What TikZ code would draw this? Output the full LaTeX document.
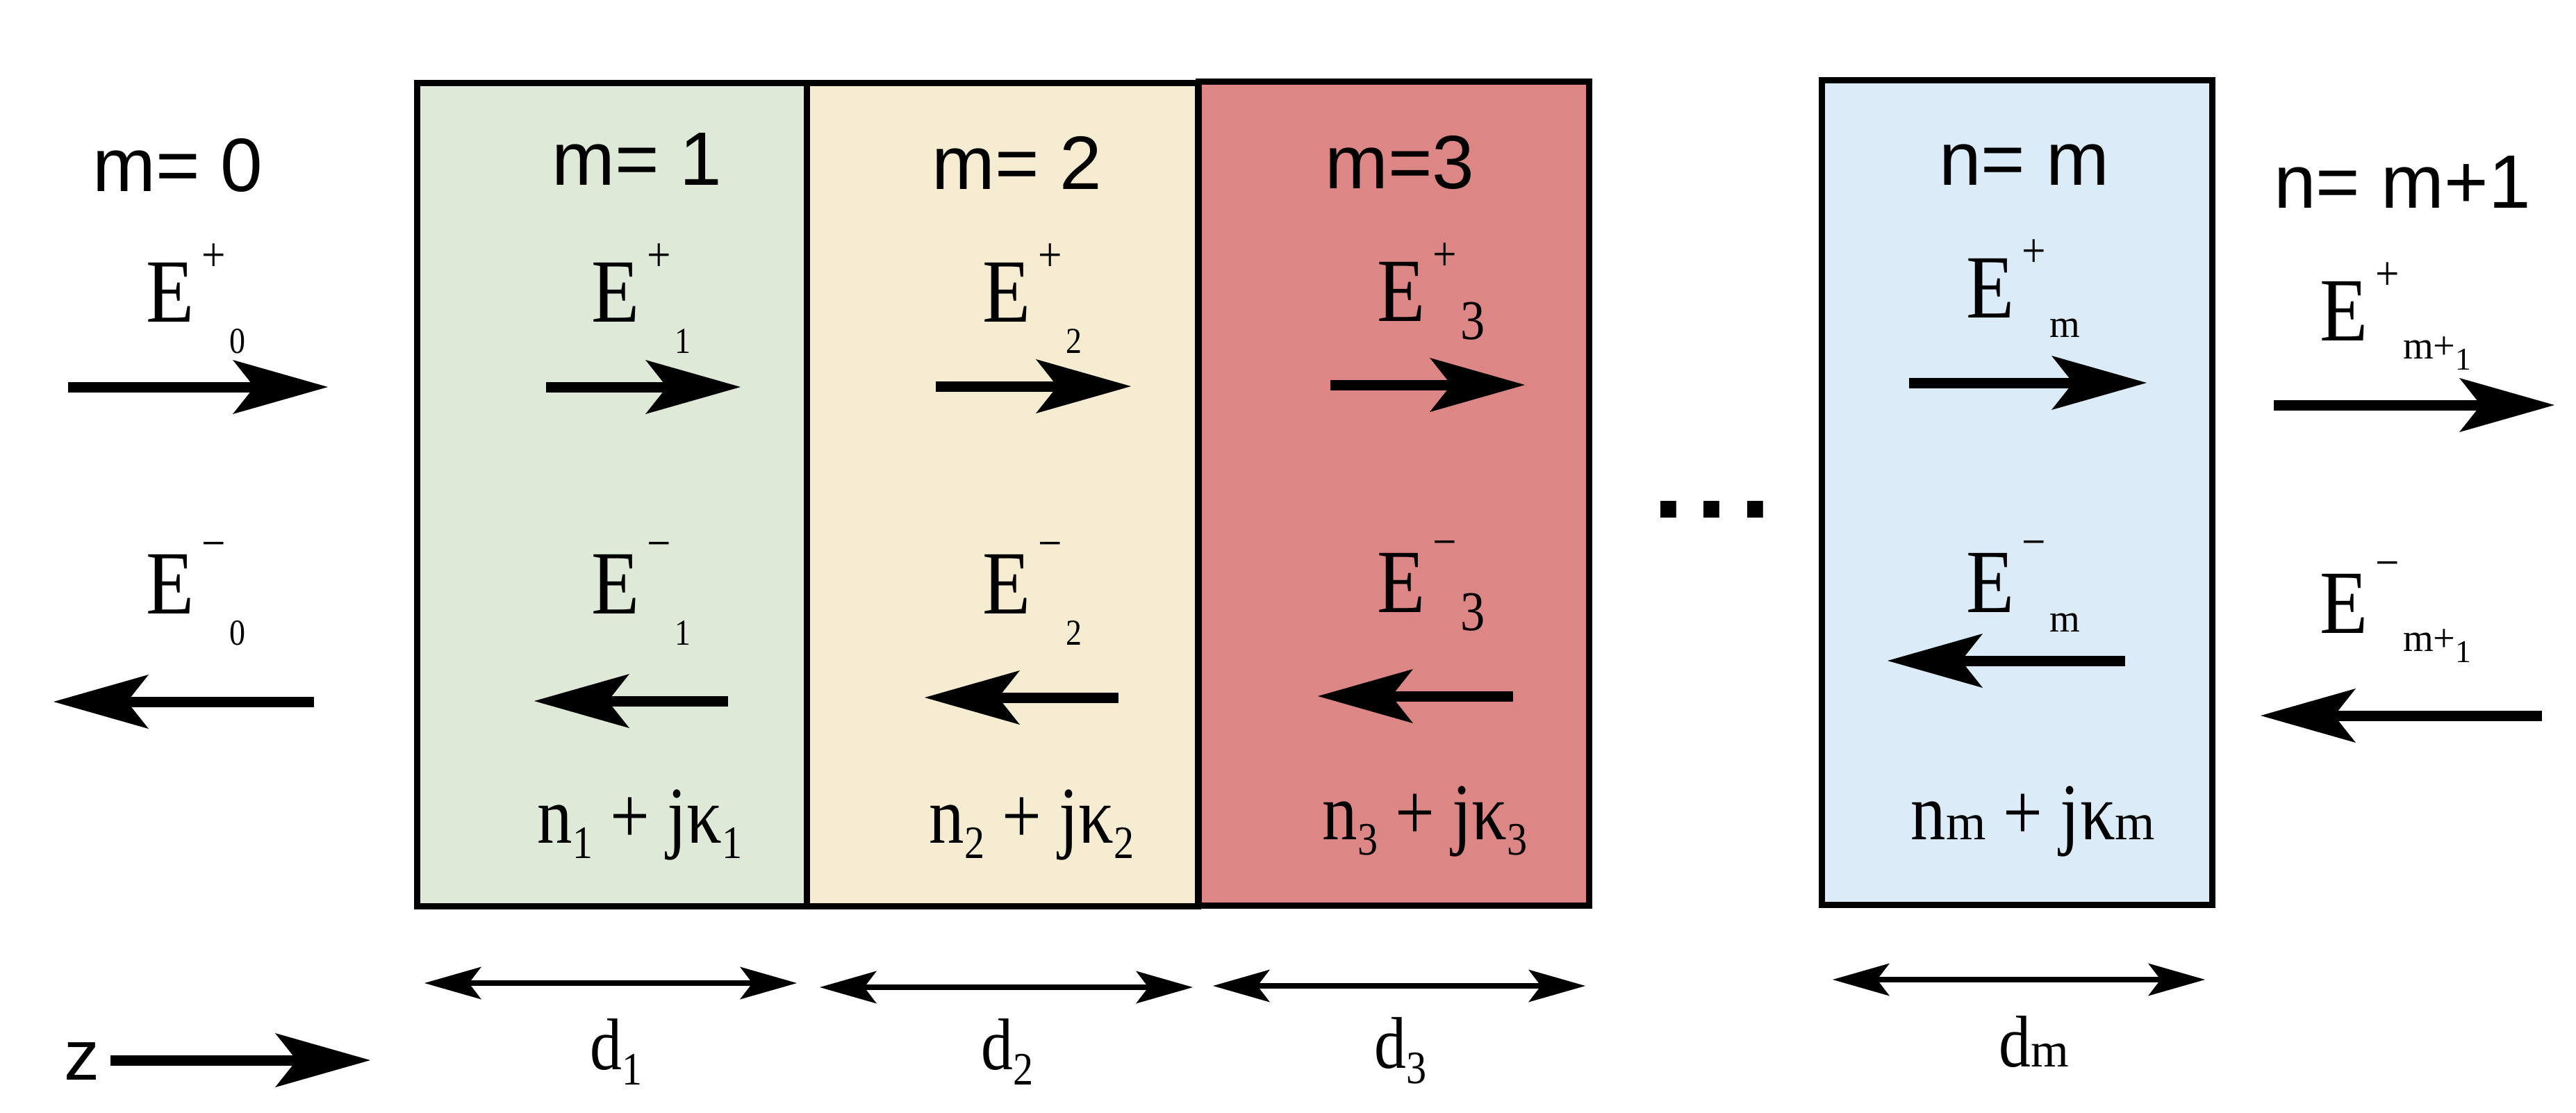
\documentclass[tikz,border=0pt]{standalone}
\usepackage{fontspec}
\setmainfont{Liberation Serif}[FakeStretch=0.87]
\newfontfamily\sansfnt{Liberation Sans}
\newfontfamily\subfnt{Liberation Serif}
\usetikzlibrary{arrows.meta}
\definecolor{layA}{HTML}{DFE9D8}
\definecolor{layB}{HTML}{F5ECD1}
\definecolor{layC}{HTML}{DC8686}
\definecolor{layD}{HTML}{DCEBF8}
\newcommand{\fs}[1]{\fontsize{#1}{#1}\selectfont}
% sup/sub parts of the field labels
\newcommand{\Ep}{\hspace{3pt}\raisebox{20.5pt}{\fs{20}+}\hspace{1.5pt}}
\newcommand{\Em}{\hspace{3pt}\raisebox{22pt}{\fs{20}−}\hspace{1.5pt}}
\newcommand{\Es}[1]{\raisebox{-12.8pt}{\fs{15}#1}}
\newcommand{\ns}[1]{\raisebox{-6.3pt}{\fs{19}#1}}
\tikzset{
  layer/.style={draw=black, line width=0.09cm, minimum width=5.62cm,
    minimum height=11.86cm, inner sep=0pt},
  idx/.style={font=\sansfnt\fs{31}, inner sep=0pt, anchor=base},
  efield/.style={font=\fs{37}, inner sep=0pt, anchor=base west},
  nlab/.style={font=\fs{33}, inner sep=0pt, anchor=base west},
  dlab/.style={font=\fs{30}, inner sep=0pt, anchor=base west},
  wave/.style={line width=0.15cm,
    -{Stealth[length=1.37cm, width=0.78cm, inset=0.31cm, line width=0pt]}},
  dimarr/.style={line width=0.085cm,
    {Stealth[length=0.82cm, width=0.47cm, inset=0.18cm, line width=0pt]}-{Stealth[length=0.82cm, width=0.47cm, inset=0.18cm, line width=0pt]}},
}
\begin{document}
\begin{tikzpicture}
    \fill[white] (0,0) rectangle (37.08,-16.01);
    \useasboundingbox (0,0) rectangle (37.08,-16.01);
    % layers
    \node[layer, fill=layA, minimum width=5.61cm, minimum height=11.85cm] (lay1) at (8.805,-7.115) {};
    \node[layer, fill=layB, minimum width=5.63cm, minimum height=11.85cm] (lay2) at (14.425,-7.115) {};
    \node[layer, fill=layC] (lay3) at (20.065,-7.10) {};
    \node[layer, fill=layD, minimum width=5.62cm, minimum height=11.87cm] (laym) at (29.03,-7.085) {};
    % indices
    \node[idx] (m0) at (2.56,-2.75) {m= 0};
    \node[idx] (m1) at (9.17,-2.66) {m= 1};
    \node[idx] (m2) at (14.64,-2.72) {m= 2};
    \node[idx] (m3) at (20.15,-2.71) {m=3};
    \node[idx] (mm) at (29.14,-2.66) {n= m};
    \node[idx] (mm1) at (34.58,-2.99) {n= m+1};
    % field labels
    \node[efield] (e0p) at (2.10,-4.63) {E\Ep\Es{0}};
    \node[efield] (e1p) at (8.51,-4.63) {E\Ep\Es{1}};
    \node[efield] (e2p) at (14.14,-4.63) {E\Ep\Es{2}};
    \node[efield] (e3p) at (19.82,-4.62) {E\Ep\raisebox{-7.4pt}{\fs{23}3}};
    \node[efield] (emp) at (28.30,-4.57) {E\Ep\raisebox{-8pt}{\subfnt\fs{16}m}};
    \node[efield] (em1p) at (33.39,-4.90) {E\Ep\raisebox{-7.4pt}{\subfnt\fs{16}m+\raisebox{-4.8pt}{\fs{13}1}}};
    \node[efield] (e0m) at (2.10,-8.83) {E\Em\Es{0}};
    \node[efield] (e1m) at (8.51,-8.83) {E\Em\Es{1}};
    \node[efield] (e2m) at (14.14,-8.83) {E\Em\Es{2}};
    \node[efield] (e3m) at (19.82,-8.81) {E\Em\raisebox{-7.4pt}{\fs{23}3}};
    \node[efield] (emm) at (28.30,-8.81) {E\Em\raisebox{-8pt}{\subfnt\fs{16}m}};
    \node[efield] (em1m) at (33.39,-9.11) {E\Em\raisebox{-7.4pt}{\subfnt\fs{16}m+\raisebox{-4.8pt}{\fs{13}1}}};
    % indices of refraction
    \node[nlab] (n1) at (7.73,-12.13) {n\ns{1} + jκ\ns{1}};
    \node[nlab] (n2) at (13.37,-12.13) {n\ns{2} + jκ\ns{2}};
    \node[nlab] (n3) at (19.03,-12.08) {n\ns{3} + jκ\ns{3}};
    \node[nlab] (nm) at (27.50,-12.08) {n{\subfnt\fs{21}m} + jκ{\subfnt\fs{21}m}};
    % thicknesses
    \node[dlab] (d1) at (8.49,-15.39) {d\ns{1}};
    \node[dlab] (d2) at (14.12,-15.39) {d\ns{2}};
    \node[dlab] (d3) at (19.78,-15.37) {d\ns{3}};
    \node[dlab] (dm) at (28.77,-15.35) {d{\subfnt\fs{20}m}};
    \node[font=\sansfnt\fs{29}, inner sep=0pt, anchor=base west] (zax) at (0.92,-15.54) {z};
    \node[font=\sansfnt\bfseries\fs{46}, inner sep=0pt, anchor=base] (dots) at (24.64,-7.45) {.\hspace{5pt}.\hspace{5pt}.};
    % arrow ends
    \coordinate (r0a) at (0.98,-5.57);   \coordinate (r0b) at (4.72,-5.57);
    \coordinate (r1a) at (7.86,-5.57);   \coordinate (r1b) at (10.66,-5.57);
    \coordinate (r2a) at (13.47,-5.56);  \coordinate (r2b) at (16.28,-5.56);
    \coordinate (r3a) at (19.15,-5.54);  \coordinate (r3b) at (21.95,-5.54);
    \coordinate (rma) at (27.48,-5.51);  \coordinate (rmb) at (30.90,-5.51);
    \coordinate (rm1a) at (32.73,-5.83); \coordinate (rm1b) at (36.77,-5.83);
    \coordinate (l0a) at (4.52,-10.10);  \coordinate (l0b) at (0.77,-10.10);
    \coordinate (l1a) at (10.48,-10.09); \coordinate (l1b) at (7.69,-10.09);
    \coordinate (l2a) at (16.10,-10.04); \coordinate (l2b) at (13.31,-10.04);
    \coordinate (l3a) at (21.78,-10.02); \coordinate (l3b) at (18.97,-10.02);
    \coordinate (lma) at (30.59,-9.51);  \coordinate (lmb) at (27.17,-9.51);
    \coordinate (lm1a) at (36.59,-10.30); \coordinate (lm1b) at (32.54,-10.30);
    \coordinate (d1a) at (6.11,-14.15);  \coordinate (d1b) at (11.47,-14.15);
    \coordinate (d2a) at (11.80,-14.21); \coordinate (d2b) at (17.17,-14.21);
    \coordinate (d3a) at (17.46,-14.19); \coordinate (d3b) at (22.82,-14.19);
    \coordinate (dma) at (26.38,-14.10); \coordinate (dmb) at (31.74,-14.10);
    \coordinate (za) at (1.59,-15.26);   \coordinate (zb) at (5.33,-15.26);
    % arrows
    \draw[wave] (r0a) -- (r0b);
    \draw[wave] (r1a) -- (r1b);
    \draw[wave] (r2a) -- (r2b);
    \draw[wave] (r3a) -- (r3b);
    \draw[wave] (rma) -- (rmb);
    \draw[wave] (rm1a) -- (rm1b);
    \draw[wave] (l0a) -- (l0b);
    \draw[wave] (l1a) -- (l1b);
    \draw[wave] (l2a) -- (l2b);
    \draw[wave] (l3a) -- (l3b);
    \draw[wave] (lma) -- (lmb);
    \draw[wave] (lm1a) -- (lm1b);
    \draw[dimarr] (d1a) -- (d1b);
    \draw[dimarr] (d2a) -- (d2b);
    \draw[dimarr] (d3a) -- (d3b);
    \draw[dimarr] (dma) -- (dmb);
    \draw[wave] (za) -- (zb);
\end{tikzpicture}
\end{document}
